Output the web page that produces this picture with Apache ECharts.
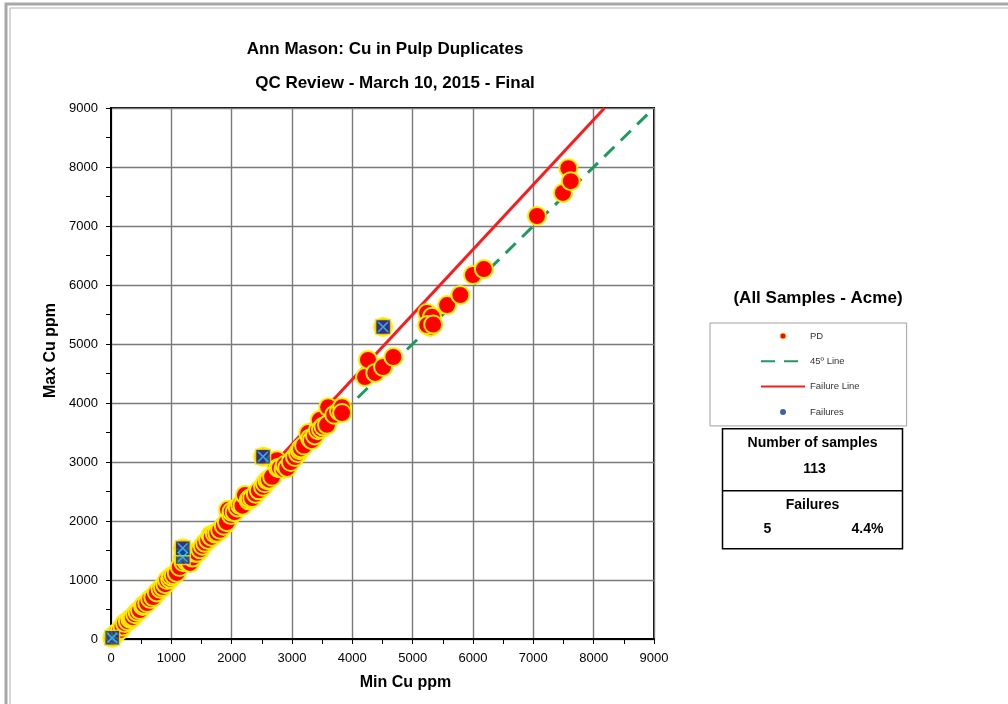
<!DOCTYPE html>
<html>
<head>
<meta charset="utf-8">
<script src="https://cdn.jsdelivr.net/npm/echarts@6/dist/echarts.min.js"></script>
<style>
html,body{margin:0;padding:0;background:#fff;}
#c{width:1008px;height:704px;}
</style>
</head>
<body>
<div id="c"></div>
<script>
// ---- data ----
const pdMin = [20,60,100,150,190,230,280,320,340,360,400,440,480,530,550,600,650,700,760,820,860,900,930,980,1000,1040,1090,1140,1190,1190,1200,1250,1280,1310,1350,1390,1430,1480,1520,1560,1610,1650,1670,1720,1760,1810,1870,1920,1940,1990,2000,2050,2100,2140,2180,2220,2280,2300,2340,2400,2450,2520,2520,2550,2590,2620,2670,2720,2750,2770,2800,2860,2880,2920,2980,3050,3100,3130,3150,3200,3270,3300,3330,3380,3430,3460,3480,3520,3580,3600,3700,3780,3830,3830,4210,4260,4380,4510,4510,4680,5240,5320,5290,5240,5340,5570,5790,6000,6180,7060,7490,7580,7620];
const pdMax = [20,70,110,150,210,270,300,340,350,370,420,460,490,560,580,610,680,710,790,850,880,930,1000,1020,1060,1080,1120,1220,1390,1540,1300,1320,1340,1290,1380,1460,1460,1520,1580,1630,1680,1760,1730,1790,1800,1850,1920,1980,2190,2100,2160,2150,2230,2270,2260,2440,2350,2380,2390,2460,2520,2580,3090,2640,2690,2700,2750,3000,3030,2900,2900,2880,2950,2900,3000,3085,3150,3200,3230,3280,3490,3400,3370,3450,3540,3710,3560,3600,3630,3930,3800,3860,3930,3830,4440,4730,4510,4610,5290,4780,5525,5460,5290,5320,5330,5660,5830,6170,6270,7170,7560,7980,7760];
const failMin = [20,1190,1190,2520,4510];
const failMax = [20,1390,1540,3090,5290];
const eqLineX = [0,9000];
const eqLineY = [0,9000];
const failLineX = [0,8180];
const failLineY = [0,9000];
const axisTicks = [0,1000,2000,3000,4000,5000,6000,7000,8000,9000];
const sampleCount = '113';
const failCount = '5';
const failPct = '4.4%';

const zip = (a,b) => a.map((v,i)=>[v,b[i]]);
const FONT = '"Liberation Sans", Arial, sans-serif';

const chart = echarts.init(document.getElementById('c'), null, {renderer:'canvas'});
const xPath = 'path://M0,1 L1,0 L5,4 L9,0 L10,1 L6,5 L10,9 L9,10 L5,6 L1,10 L0,9 L4,5 Z';

chart.setOption({
  backgroundColor:'#ffffff',
  animation:false,
  textStyle:{fontFamily:FONT},
  title:[
    {text:'Ann Mason: Cu in Pulp Duplicates', left:380, top:36, textAlign:'center',
     textStyle:{fontFamily:FONT, fontSize:17, fontWeight:'bold', color:'#000'}},
    {text:'QC Review - March 10, 2015 - Final', left:390, top:70, textAlign:'center',
     textStyle:{fontFamily:FONT, fontSize:17, fontWeight:'bold', color:'#000'}},
    {text:'(All Samples - Acme)', left:813, top:285, textAlign:'center',
     textStyle:{fontFamily:FONT, fontSize:17, fontWeight:'bold', color:'#000'}}
  ],
  grid:{left:111, top:108, right:354, bottom:65, show:true, borderColor:'#000', borderWidth:2, backgroundColor:'transparent'},
  xAxis:{
    type:'value', min:0, max:9000, interval:1000,
    name:'Min Cu ppm', nameLocation:'middle', nameGap:36,
    nameTextStyle:{fontFamily:FONT, fontSize:16, fontWeight:'bold', color:'#000', padding:[0,0,0,46]},
    axisLine:{show:true, lineStyle:{color:'#000', width:2}},
    axisTick:{show:true, inside:false, length:5, lineStyle:{color:'#000'}},
    minorTick:{show:true, splitNumber:2, length:5, lineStyle:{color:'#000'}},
    axisLabel:{margin:13, fontFamily:FONT, fontSize:13, color:'#000',
      formatter:v=>axisTicks.includes(v)?String(v):''},
    splitLine:{show:true, lineStyle:{color:'#7a7a7a', width:1.4}}
  },
  yAxis:{
    type:'value', min:0, max:9000, interval:1000,
    name:'Max Cu ppm', nameLocation:'middle', nameGap:45,
    nameTextStyle:{fontFamily:FONT, fontSize:16, fontWeight:'bold', color:'#000', padding:[0,0,0,46]},
    axisLine:{show:true, lineStyle:{color:'#000', width:2}},
    axisTick:{show:true, inside:false, length:5, lineStyle:{color:'#000'}},
    minorTick:{show:true, splitNumber:2, length:5, lineStyle:{color:'#000'}},
    axisLabel:{margin:13, fontFamily:FONT, fontSize:13, color:'#000',
      formatter:v=>axisTicks.includes(v)?String(v):''},
    splitLine:{show:true, lineStyle:{color:'#7a7a7a', width:1.4}}
  },
  legend:{
    orient:'vertical', left:710, top:323,
    padding:[8, 47, 9, 50],
    itemWidth:44, itemHeight:6, itemGap:15.3,
    backgroundColor:'#fff', borderColor:'#a0a0a0', borderWidth:1,
    textStyle:{fontFamily:FONT, fontSize:9.5, color:'#333'},
    data:[
      {name:'PD', icon:'circle', itemStyle:{borderWidth:0.8}},
      {name:'45º Line', itemStyle:{opacity:0}},
      {name:'Failure Line', itemStyle:{opacity:0}},
      {name:'Failures', icon:'circle', itemStyle:{borderWidth:0}}
    ]
  },
  series:[
    {name:'45º Line', type:'line', data:zip(eqLineX,eqLineY), symbol:'none', z:2,
     lineStyle:{color:'#1f9a5e', width:3, type:[14,9]}, itemStyle:{color:'#1f9a5e'}},
    {name:'Failure Line', type:'line', data:zip(failLineX,failLineY), symbol:'none', z:2,
     lineStyle:{color:'#ff1a1a', width:3}, itemStyle:{color:'#ff1a1a'}},
    {name:'PD', type:'scatter', data:zip(pdMin,pdMax), symbol:'circle', symbolSize:18, z:3,
     itemStyle:{color:'#ff0000', borderColor:'#ffee00', borderWidth:2, opacity:1}},
    {name:'Failures', type:'scatter', data:zip(failMin,failMax), symbol:'rect', symbolSize:15, z:4,
     itemStyle:{color:'#0b3a9a', borderColor:'#ffee00', borderWidth:1.5}},
    {name:'FailuresX', type:'scatter', data:zip(failMin,failMax), symbol:xPath, symbolSize:11, z:5,
     itemStyle:{color:'#2ad0ff'}, legendHoverLink:false, silent:true}
  ],
  graphic:[
    {type:'rect', shape:{x:6, y:4, width:1100, height:800}, style:{fill:'none', stroke:'#a8a8a8', lineWidth:3}, silent:true},
    {type:'line', shape:{x1:10, y1:8, x2:10, y2:704}, style:{stroke:'#b0b0b0', lineWidth:1}, silent:true},
    {type:'line', shape:{x1:10, y1:8, x2:1008, y2:8}, style:{stroke:'#b0b0b0', lineWidth:1}, silent:true},
    {type:'group', left:720, top:428, children:[
      {type:'rect', shape:{x:0, y:0, width:180, height:120}, style:{fill:'#fff', stroke:'#000', lineWidth:1.5}},
      {type:'line', shape:{x1:0, y1:62, x2:180, y2:62}, style:{stroke:'#000', lineWidth:1.5}},
      {type:'text', x:90, y:14, style:{text:'Number of samples', fill:'#000', font:'bold 14px '+FONT, textAlign:'center', textVerticalAlign:'middle'}},
      {type:'text', x:92, y:40, style:{text:sampleCount, fill:'#000', font:'bold 14px '+FONT, textAlign:'center', textVerticalAlign:'middle'}},
      {type:'text', x:90, y:76, style:{text:'Failures', fill:'#000', font:'bold 14px '+FONT, textAlign:'center', textVerticalAlign:'middle'}},
      {type:'text', x:45, y:100, style:{text:failCount, fill:'#000', font:'bold 14px '+FONT, textAlign:'center', textVerticalAlign:'middle'}},
      {type:'text', x:145, y:100, style:{text:failPct, fill:'#000', font:'bold 14px '+FONT, textAlign:'center', textVerticalAlign:'middle'}}
    ]}
  ]
});
</script>
</body>
</html>
